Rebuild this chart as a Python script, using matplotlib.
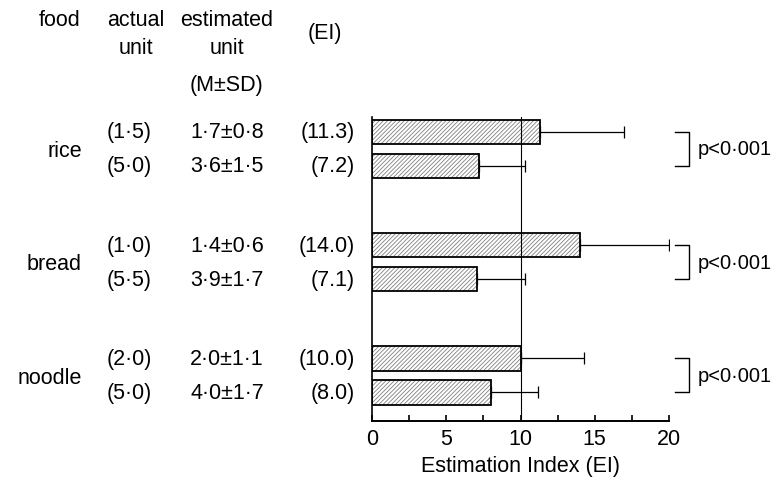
"""Estimation Index (EI) by food and portion size."""

import matplotlib.pyplot as plt
import matplotlib.transforms as mtransforms
import numpy as np

foods = ["rice", "bread", "noodle"]
actual_units = ["(1·5)", "(5·0)", "(1·0)", "(5·5)", "(2·0)", "(5·0)"]
estimated_units = ["1·7±0·8", "3·6±1·5", "1·4±0·6", "3·9±1·7", "2·0±1·1", "4·0±1·7"]
ei_labels = ["(11.3)", "(7.2)", "(14.0)", "(7.1)", "(10.0)", "(8.0)"]
ei_mean = [11.3, 7.2, 14.0, 7.1, 10.0, 8.0]
ei_sd = [5.7, 3.1, 6.0, 3.2, 4.3, 3.2]
p_values = ["p<0·001", "p<0·001", "p<0·001"]

W, H = 776, 485
FS = 15.5

plt.rcParams["font.family"] = ["Liberation Sans", "DejaVu Sans"]
plt.rcParams["hatch.linewidth"] = 0.6

fig = plt.figure(figsize=(W / 100, H / 100), dpi=100)
ax = fig.add_axes([372 / W, 1 - 422 / H, (669 - 372) / W, (422 - 118) / H])

ypos = np.array([g * 3.33 + k for g in range(len(foods)) for k in (0, 1)])
bar_h = 0.72

# hatch fill in grey, outline in black drawn on top
ax.barh(ypos, ei_mean, height=bar_h, color="white", edgecolor="#808080",
        hatch="////////", linewidth=0, zorder=2)
ax.barh(ypos, ei_mean, height=bar_h, color="none", edgecolor="black",
        linewidth=1.3, zorder=3)
ax.errorbar(ei_mean, ypos, xerr=[np.zeros(len(ei_sd)), ei_sd], fmt="none",
            ecolor="black", elinewidth=0.9, capsize=4.5, capthick=0.9, zorder=3)
ax.axvline(10, color="black", lw=0.8, zorder=4)

ax.set_xlim(0, 20)
ax.set_ylim(8.5, -0.44)
ax.set_yticks([])
ax.set_xticks([0, 5, 10, 15, 20])
ax.set_xticks(np.arange(2.5, 20, 5), minor=True)
ax.tick_params(axis="x", which="both", direction="in", length=4, width=1.2,
               labelsize=FS, pad=5)
for side in ("top", "right"):
    ax.spines[side].set_visible(False)
ax.spines["left"].set_linewidth(1.2)
ax.spines["bottom"].set_linewidth(1.4)
ax.set_xlabel("Estimation Index (EI)", fontsize=FS)
ax.xaxis.set_label_coords(0.5, -0.112)

# left text columns follow the bar rows
tr = mtransforms.blended_transform_factory(fig.transFigure, ax.transData)
for i, y in enumerate(ypos):
    ax.text(129 / W, y, actual_units[i], transform=tr, ha="center",
            va="center", fontsize=FS)
    ax.text(227 / W, y, estimated_units[i], transform=tr, ha="center",
            va="center", fontsize=FS)
    ax.text(355 / W, y, ei_labels[i], transform=tr, ha="right",
            va="center", fontsize=FS)

for g, food in enumerate(foods):
    y0, y1 = ypos[2 * g], ypos[2 * g + 1]
    ym = (y0 + y1) / 2
    ax.text(82 / W, ym + 0.05, food, transform=tr, ha="right", va="center",
            fontsize=FS)
    ax.plot([675 / W, 689 / W, 689 / W, 675 / W], [y0, y0, y1, y1],
            transform=tr, color="black", lw=1.0, clip_on=False)
    ax.text(698 / W, ym, p_values[g], transform=tr, ha="left", va="center",
            fontsize=14.5)

# column headers
fig.text(60 / W, 1 - 20 / H, "food", ha="center", va="center", fontsize=FS)
fig.text(136 / W, 1 - 20 / H, "actual", ha="center", va="center", fontsize=FS)
fig.text(136 / W, 1 - 48 / H, "unit", ha="center", va="center", fontsize=FS)
fig.text(227 / W, 1 - 20 / H, "estimated", ha="center", va="center", fontsize=FS)
fig.text(227 / W, 1 - 48 / H, "unit", ha="center", va="center", fontsize=FS)
fig.text(226 / W, 1 - 86 / H, "(M±SD)", ha="center", va="center", fontsize=FS)
fig.text(325 / W, 1 - 34 / H, "(EI)", ha="center", va="center", fontsize=FS)

fig.savefig("out.png", dpi=100, facecolor="white")
